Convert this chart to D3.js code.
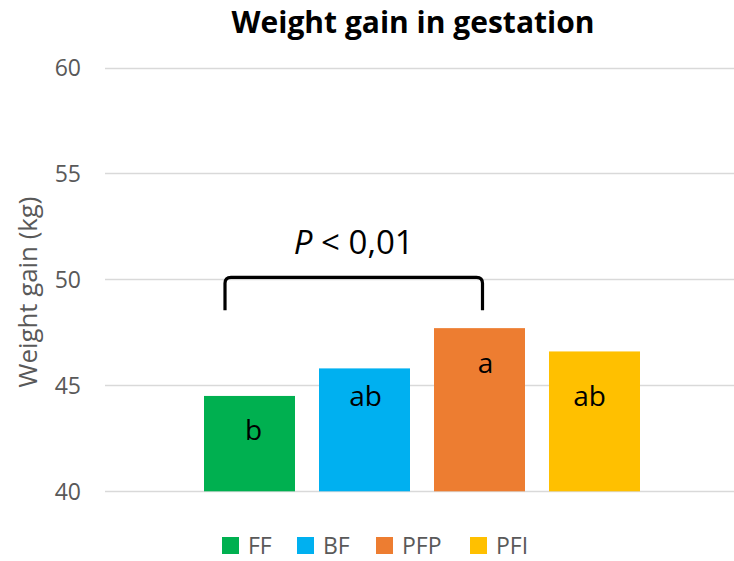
<!DOCTYPE html>
<html><head><meta charset="utf-8">
<script src="https://cdn.jsdelivr.net/npm/d3@7"></script>
<style>body{margin:0;background:#fff}svg{display:block}</style>
</head><body>
<svg id="c" width="734" height="561"></svg>
<script>
const categories = ["FF","BF","PFP","PFI"];
const values = [44.5, 45.8, 47.7, 46.6];
const letters = ["b","ab","a","ab"];
const colors = ["#00B050","#00B0F0","#ED7D31","#FFC000"];
const yTicks = [40,45,50,55,60];
const title = "Weight gain in gestation";
const yTitle = "Weight gain (kg)";

const svg = d3.select("#c");
const W = 734, H = 561;
const FONT = "'Open Sans'";
function fit(sel, base, target){
  sel.attr("font-size", base);
  const w = sel.node().getComputedTextLength();
  sel.attr("font-size", base*target/w);
  return base*target/w;
}
const y = d3.scaleLinear().domain([40,60]).range([491.3,67.5]);
const x = d3.scaleBand().domain(categories).range([192,652]).paddingInner(24/115).paddingOuter(12/115);

// gridlines
svg.append("g").selectAll("line").data(yTicks).join("line")
  .attr("x1",105).attr("x2",W).attr("y1",d=>Math.round(y(d))+0.5).attr("y2",d=>Math.round(y(d))+0.5)
  .attr("stroke","#d9d9d9").attr("stroke-width",1.5);

// y axis labels
const ax = svg.append("g").attr("transform","translate(81,0)")
  .call(d3.axisLeft(y).tickValues(yTicks).tickSize(0).tickPadding(0));
ax.select(".domain").remove();
ax.selectAll("text").attr("font-family",FONT).attr("font-size",23).attr("fill","#595959").attr("dy","0.36em");

// y title
const yt = svg.append("text").attr("transform","translate(28,292) rotate(-90)")
  .attr("text-anchor","middle").attr("dy","0.36em").attr("font-family",FONT).attr("fill","#595959")
  .text(yTitle);
fit(yt,20,191);

// bars
svg.append("g").selectAll("rect").data(categories).join("rect")
  .attr("x",d=>x(d)).attr("width",x.bandwidth())
  .attr("y",(d,i)=>y(values[i])).attr("height",(d,i)=>y(40)-y(values[i]))
  .attr("fill",(d,i)=>colors[i]);

// letters
const offs = [{dx:4,dy:44},{dx:1,dy:38},{dx:6,dy:45},{dx:-5,dy:55}];
svg.append("g").selectAll("text").data(categories).join("text")
  .attr("x",(d,i)=>x(d)+x.bandwidth()/2+offs[i].dx)
  .attr("y",(d,i)=>y(values[i])+offs[i].dy)
  .attr("text-anchor","middle").attr("font-family",FONT).attr("font-size",28).attr("fill","#000")
  .text((d,i)=>letters[i]);

// bracket
const bl = x("FF")+21, br = x("PFP")+x.bandwidth()/2+3, bt = y(50.1), bb = bt+33, r=6;
svg.append("path")
  .attr("d",`M${bl},${bb} L${bl},${bt+r} Q${bl},${bt} ${bl+r},${bt} L${br-r},${bt} Q${br},${bt} ${br},${bt+r} L${br},${bb}`)
  .attr("fill","none").attr("stroke","#000").attr("stroke-width",3.2);

const pt = svg.append("text").attr("x",(bl+br)/2).attr("y",254).attr("text-anchor","middle")
  .attr("font-family",FONT).attr("fill","#000");
pt.append("tspan").attr("font-style","italic").text("P");
pt.append("tspan").text(" < 0,01");
fit(pt,25,120);

// title
const t = svg.append("text").attr("x",413).attr("y",33).attr("text-anchor","middle")
  .attr("font-family",FONT).attr("font-weight","bold").attr("fill","#000").text(title);
fit(t,28,363);

// legend
const legX = [222,297,376,470];
const lg = svg.append("g").selectAll("g").data(categories).join("g")
  .attr("transform",(d,i)=>`translate(${legX[i]},537)`);
lg.append("rect").attr("width",17).attr("height",17).attr("fill",(d,i)=>colors[i]);
const ltx = lg.append("text").attr("x",26).attr("y",8.5).attr("dy","0.36em")
  .attr("font-family",FONT).attr("fill","#595959").text(d=>d);
ltx.attr("font-size",22);
const pfpw = ltx.filter(d=>d==="PFP").node().getComputedTextLength();
ltx.attr("font-size",Math.min(23, 22*45/pfpw));
</script>
</body></html>
